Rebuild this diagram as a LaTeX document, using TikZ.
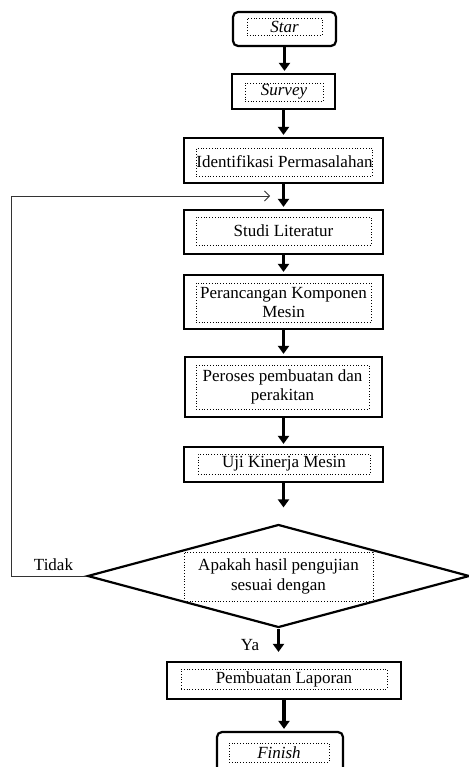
\documentclass[tikz,border=0pt]{standalone}
\usepackage{fontspec}
\setmainfont{Liberation Serif}
\usetikzlibrary{arrows.meta,shapes.geometric}
\begin{document}
\begin{tikzpicture}[x=1pt,y=-1pt,font=\fontsize{17}{19.5}\selectfont,
  stepbox/.style={draw,line width=2.2pt,inner sep=0pt},
  termbox/.style={stepbox,rounded corners=5pt},
  textbox/.style={draw,dotted,line width=0.8pt,inner sep=0pt,align=center},
  flow/.style={-{Triangle[length=8pt,width=11pt]},line width=3.8pt,shorten >=#1},
  flow/.default=2pt,
  back/.style={-{Straight Barb[length=5pt,width=10pt]},line width=0.8pt,black!80}]
\useasboundingbox (0,0) rectangle (468,767);
\node[termbox,minimum width=103,minimum height=34] (star) at (284.5,29) {};
\node[textbox,minimum width=75,minimum height=17] (star-t) at (284.5,26.5) {\textit{Star}};
\node[stepbox,minimum width=103,minimum height=35] (survey) at (283.5,91.5) {};
\node[textbox,minimum width=78,minimum height=18] (survey-t) at (284,92) {\textit{Survey}};
\node[stepbox,minimum width=199,minimum height=45] (ident) at (283.5,160.5) {};
\node[textbox,minimum width=175,minimum height=28] (ident-t) at (284.5,162) {Identifikasi Permasalahan};
\node[stepbox,minimum width=199,minimum height=44] (studi) at (283.5,232) {};
\node[textbox,minimum width=175,minimum height=28] (studi-t) at (283.5,231) {Studi Literatur};
\node[stepbox,minimum width=199,minimum height=54] (rancang) at (283.5,302) {};
\node[textbox,minimum width=175,minimum height=39] (rancang-t) at (283.5,302.5) {Perancangan Komponen\\Mesin};
\node[stepbox,minimum width=197,minimum height=60] (proses) at (283.5,387) {};
\node[textbox,minimum width=173,minimum height=44] (proses-t) at (282.5,387) {Peroses pembuatan dan\\perakitan};
\node[stepbox,minimum width=199,minimum height=35] (uji) at (283.5,464.5) {};
\node[textbox,minimum width=172,minimum height=20] (uji-t) at (284,464) {Uji Kinerja Mesin};
\node[stepbox,diamond,minimum width=382,minimum height=103] (dec) at (278.5,576) {};
\node[textbox,minimum width=189,minimum height=49] (dec-t) at (278.5,576.5) {Apakah hasil pengujian\\sesuai dengan};
\node[stepbox,minimum width=234,minimum height=37] (lapor) at (284,680.5) {};
\node[textbox,minimum width=206,minimum height=20] (lapor-t) at (284,679) {Pembuatan Laporan};
\node[termbox,minimum width=126,minimum height=40] (finish) at (280,752) {};
\node[textbox,minimum width=100,minimum height=19] (finish-t) at (279,752.5) {\textit{Finish}};
\node (tidak) at (53.5,565) {Tidak};
\node (ya) at (250,645) {Ya};
\draw[flow] (star.south) -- (star.south |- survey.north);
\draw[flow] (survey.south) -- (survey.south |- ident.north);
\draw[flow] (ident.south) -- (ident.south |- studi.north);
\draw[flow] (studi.south) -- (studi.south |- rancang.north);
\draw[flow] (rancang.south) -- (rancang.south |- proses.north);
\draw[flow] (proses.south) -- (proses.south |- uji.north);
\draw[flow=16pt] (uji.south) -- (uji.south |- dec.north);
\draw[flow=9pt] (dec.south) -- (dec.south |- lapor.north);
\draw[flow] (lapor.south) -- (lapor.south |- finish.north);
% jalur kembali
\coordinate (loop) at (11,196);
\coordinate (back) at (270,196);
\draw[back] (dec.west) -| (loop) -- (back);
\end{tikzpicture}
\end{document}
